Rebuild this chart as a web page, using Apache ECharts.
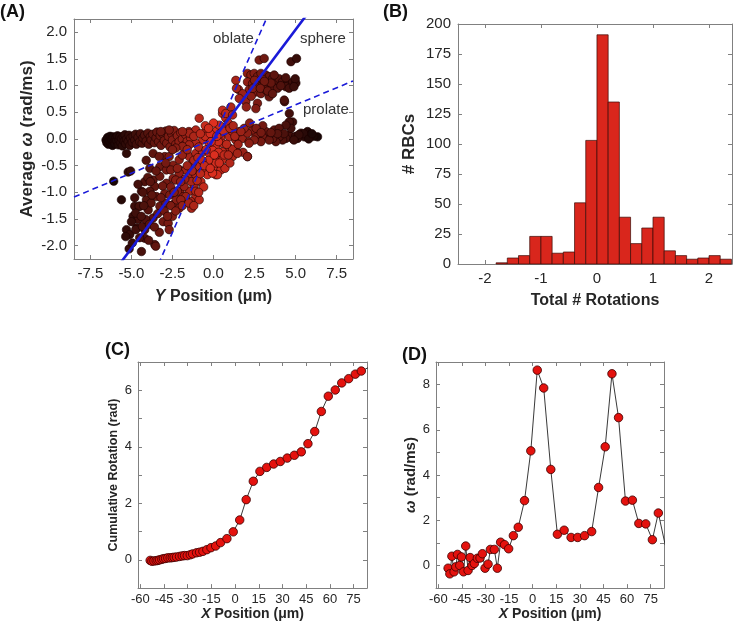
<!DOCTYPE html>
<html><head><meta charset="utf-8">
<script src="https://cdn.jsdelivr.net/npm/echarts@6/dist/echarts.min.js"></script>
<style>html,body{margin:0;padding:0;background:#fff}#c{width:738px;height:622px}</style>
</head><body><div id="c"></div>
<script>
// ---------- Panel A data: Y position (um) vs average omega (rad/ms) ----------
const aBandLeft = [[-6.55,-0.02],[-6.5,-0.07],[-6.45,0.03],[-6.4,-0.1],[-6.35,-0.04],[-6.3,0.05],[-6.25,-0.08],[-6.2,0.0],[-6.15,-0.12],[-6.1,0.04],[-6.05,-0.05],[-6.0,-0.09],[-5.95,0.02],[-5.9,-0.03],[-5.85,0.06],[-5.8,-0.11],[-5.75,-0.02],[-5.7,0.04],[-5.65,-0.07],[-5.6,0.01],[-5.55,-0.13],[-5.5,0.05],[-5.45,-0.04],[-5.4,0.08],[-5.35,-0.09],[-5.3,0.0],[-5.2,-0.05],[-5.15,0.07],[-5.1,-0.12],[-5.05,0.02],[-4.95,-0.06],[-4.9,0.05],[-4.8,-0.02],[-4.75,0.09],[-4.7,-0.1],[-4.6,0.03],[-4.5,-0.05],[-4.45,0.1],[-4.35,-0.08],[-4.3,0.02],[-4.2,0.07],[-4.1,-0.04],[-4.0,0.11],[-3.95,-0.1],[-3.85,0.04],[-3.8,-0.02],[-3.7,0.09],[-3.6,-0.07],[-3.5,0.02],[-3.45,0.13],[-3.35,-0.05],[-3.25,0.06],[-3.2,-0.12],[-3.1,0.1],[-3.0,-0.03],[-2.9,0.15],[-2.85,-0.08],[-2.75,0.05],[-2.65,-0.15],[-2.55,0.1],[-2.5,-0.02],[-2.4,0.16],[-2.3,-0.1],[-2.2,0.06],[-2.1,-0.05],[-2.0,0.12],[-1.9,0.0],[-1.8,-0.12],[-1.7,0.08],[-1.6,-0.04],[-1.5,0.14],[-1.4,0.02]];
const aCloudLowerLeft = [[-5.30,-0.27],[-5.20,-0.62],[-5.05,-0.60],[-6.08,-0.79],[-5.61,-1.14],[-3.88,-0.55],[-4.19,-0.80],[-3.68,-0.77],[-4.39,-0.98],[-4.80,-1.26],[-4.90,-1.45],[-4.59,-1.51],[-5.30,-1.70],[-5.10,-1.79],[-4.69,-1.67],[-4.19,-1.70],[-4.19,-1.86],[-3.58,-1.98],[-4.39,-2.11],[-5.14,-2.06],[-4.49,-1.26],[-3.98,-1.33],[-3.68,-1.48],[-3.27,-1.26],[-3.07,-1.55],[-2.76,-1.58],[-3.48,-1.08],[-2.97,-1.02],[-2.66,-1.05],[-2.46,-1.23],[-2.26,-1.14],[-2.05,-0.98],[-1.85,-1.08],[-1.65,-1.17],[-1.34,-1.30],[-2.87,-0.83],[-2.46,-0.74],[-3.27,-0.70],[-3.58,-0.89],[-3.88,-0.98],[-4.09,-1.14],[-3.27,-0.52],[-2.87,-0.58],[-2.46,-0.49],[-2.05,-0.58],[-3.68,-0.27],[-2.97,-0.33],[-3.52,-2.01],[-5.35,-1.83],[-4.74,-1.70],[-4.33,-1.64],[-4.13,-1.51],[-4.53,-1.26],[-4.74,-1.39],[-3.8,-1.2],[-3.4,-1.4],[-3.9,-1.6],[-4.0,-0.72],[-3.1,-0.88],[-3.75,-1.05],[-4.3,-1.0],[-3.3,-1.75],[-2.9,-1.2],[-2.5,-1.45],[-4.6,-0.85],[-3.5,-0.6],[-4.1,-0.4],[-2.7,-1.7],[-3.95,-1.9],[-4.5,-1.85],[-4.8,-1.1],[-5.0,-1.55],[-4.4,-1.45],[-3.6,-1.65],[-3.2,-1.1],[-3.0,-1.35],[-3.85,-0.8],[-4.25,-1.25],[-2.6,-0.9],[-4.95,-1.95]];
const aCloudCenter = [[-0.87,0.39],[0.55,0.48],[0.75,0.39],[0.14,0.14],[-0.47,0.14],[-1.08,0.17],[-1.48,0.11],[-1.89,0.14],[-2.70,0.17],[-3.21,0.14],[0.45,0.04],[0.96,0.04],[1.36,-0.02],[1.77,0.01],[2.17,-0.05],[1.57,0.14],[1.16,0.14],[0.75,0.23],[0.35,0.26],[1.36,-0.21],[0.96,-0.17],[0.55,-0.24],[0.14,-0.14],[-0.26,-0.08],[-0.67,-0.02],[-1.08,-0.08],[-1.48,-0.11],[-1.89,-0.14],[-2.30,-0.17],[-2.70,-0.33],[-2.09,-0.39],[-1.48,-0.33],[-1.08,-0.27],[-0.67,-0.24],[-0.26,-0.27],[0.14,-0.33],[0.55,-0.39],[0.04,-0.52],[-0.37,-0.45],[-0.87,-0.52],[-1.28,-0.45],[-1.69,-0.58],[-2.09,-0.64],[-1.48,-0.70],[-1.08,-0.67],[-0.67,-0.61],[-0.37,-0.67],[-0.77,-0.80],[-1.18,-0.89],[-1.48,-0.98],[-1.08,-1.08],[-1.38,-1.17],[-1.69,-1.08],[-1.99,-1.14],[-1.79,-0.89],[-2.20,-0.98],[-2.09,-1.30],[-2.80,-1.45],[-2.30,-0.77],[-2.60,-0.58],[-2.91,-0.45],[-3.31,-0.33],[0.55,-0.08],[-0.06,-0.21],[0.45,-0.58],[0.14,-0.67],[0.14,-0.45],[1.16,-0.33],[2.07,-0.33],[1.16,-0.19],[0.24,-0.67],[-0.06,-0.64],[-0.87,-1.14],[-1.08,-0.98],[-0.5,0.05],[-0.2,0.1],[0.3,-0.05],[0.8,-0.1],[-0.9,-0.15],[-0.3,-0.4],[0.7,-0.55],[1.0,-0.45],[-0.6,-0.9],[-1.3,-0.6],[-1.9,-0.3],[0.0,0.3],[-0.5,0.25],[1.5,-0.1],[1.8,-0.25],[0.4,0.1],[-1.2,-0.4],[-0.95,-0.35],[-0.7,-0.4],[-0.45,-0.2],[-0.15,-0.05],[0.2,0.05],[0.6,0.15],[0.9,0.3],[-1.6,-0.5],[-1.35,-0.8],[-1.0,-0.78],[-0.8,-0.65],[-0.55,-0.5],[-0.2,-0.55],[0.3,-0.25],[0.65,-0.3],[-1.75,-0.75],[-2.0,-0.8],[-2.4,-1.0],[-2.6,-1.25],[-2.3,-1.35],[-1.9,-1.25],[-1.5,-1.2],[-1.2,-1.25],[-0.9,-1.0],[-2.2,-0.55],[-2.5,-0.2],[-1.6,-0.2],[-1.2,0.05],[-0.8,0.1],[0.05,-0.3],[0.35,-0.45],[0.9,-0.3],[1.3,0.05],[1.0,0.2],[-0.3,0.2]];
const aCloudUpperRight = [[2.78,1.48],[3.09,1.51],[4.72,1.45],[5.06,1.51],[2.07,1.23],[2.28,1.20],[2.48,1.23],[2.68,1.17],[2.89,1.23],[3.19,1.20],[3.39,1.17],[3.60,1.13],[3.80,1.10],[4.0,1.13],[4.2,1.07],[4.5,1.04],[4.82,1.07],[5.02,1.05],[4.98,1.13],[4.41,0.98],[4.61,0.95],[2.07,1.07],[2.38,1.04],[2.68,1.05],[2.99,1.01],[3.29,1.04],[3.60,0.98],[3.90,0.95],[2.17,0.92],[2.58,0.88],[2.89,0.85],[3.19,0.92],[3.39,0.79],[1.52,0.93],[1.77,0.85],[1.57,0.76],[1.97,0.70],[2.68,0.67],[2.58,0.57],[4.33,0.70],[1.36,1.10],[0.55,0.54],[0.75,0.48],[1.06,0.60],[1.16,0.45],[1.40,0.95],[2.5,1.1],[3.0,1.12],[3.5,1.05],[2.3,0.8],[4.62,0.48],[4.82,0.32],[4.31,0.73],[3.7,1.2],[4.1,1.0],[3.1,1.08],[2.4,0.95],[2.85,0.95],[3.3,0.9],[4.4,1.15],[4.9,0.98],[2.0,0.6],[3.6,0.85]];
const aBandRight = [[6.34,0.04],[5.73,0.14],[5.53,0.04],[5.33,0.11],[5.12,0.01],[4.82,0.01],[4.61,0.07],[4.41,0.01],[4.21,-0.02],[4.0,0.04],[3.80,-0.05],[3.60,0.01],[3.39,0.07],[3.19,0.14],[2.99,0.04],[2.78,0.17],[2.58,0.07],[2.38,0.17],[2.07,0.11],[1.87,0.20],[1.67,0.14],[4.61,0.32],[4.72,0.20],[4.41,0.26],[3.70,0.17],[4.0,0.20],[3.39,-0.02],[2.89,-0.05],[2.48,-0.02],[2.17,-0.08],[2.07,-0.33],[1.46,-0.27],[5.9,0.08],[6.1,0.05],[5.0,0.05],[3.0,0.25],[2.2,0.3],[1.2,0.25],[5.5,0.1],[5.2,0.08],[4.9,-0.02],[4.3,0.1],[3.9,0.1],[3.5,0.12],[2.6,0.2],[2.9,0.12],[5.8,0.0],[6.0,0.1]];
// reference lines: omega = slope * y
const aLineNames = ['sphere','oblate','prolate'];
const aLineSlopes = [0.41, 0.70, 0.128];
const aXTicks = [-7.5,-5,-2.5,0,2.5,5,7.5];
const aYTicks = [-2,-1.5,-1,-0.5,0,0.5,1,1.5,2];

// ---------- Panel B data: histogram ----------
const bBinEdges = [-1.8,-1.6,-1.4,-1.2,-1.0,-0.8,-0.6,-0.4,-0.2,0,0.2,0.4,0.6,0.8,1.0,1.2,1.4,1.6,1.8,2.0,2.2,2.4];
const bCounts = [1,5,7,23,23,9,10,51,103,191,135,39,17,30,39,11,7,4,5,7,4];
const bXTicks = [-2,-1,0,1,2];

// ---------- Panels C & D data ----------
const cdX = [-53.8,-52.7,-51.4,-50.0,-48.9,-47.8,-46.4,-45.3,-44.0,-42.6,-41.1,-39.8,-38.6,-37.1,-35.2,-33.5,-32.0,-30.3,-28.4,-26.9,-24.4,-22.5,-20.4,-17.9,-15.3,-12.3,-9.2,-5.2,-1.2,2.9,7.0,11.5,15.7,20.0,24.4,28.6,33.0,37.5,41.9,46.1,50.4,54.6,59.0,63.4,67.5,71.9,76.1,79.9,84.3];
const cCumRot = [-0.02,-0.05,-0.04,-0.03,-0.02,0.0,0.02,0.04,0.05,0.07,0.07,0.08,0.09,0.10,0.12,0.14,0.15,0.15,0.18,0.21,0.25,0.27,0.30,0.36,0.43,0.49,0.61,0.75,0.99,1.41,2.13,2.78,3.13,3.27,3.39,3.48,3.60,3.70,3.82,4.11,4.54,5.25,5.79,6.01,6.26,6.41,6.57,6.68,6.80];
const dOmega = [-0.12,-0.37,0.41,-0.28,-0.06,0.49,0.0,0.38,-0.28,0.86,-0.22,0.35,0.0,0.09,0.32,0.33,0.52,-0.12,0.06,0.71,0.71,-0.12,1.03,0.92,0.74,1.32,1.69,2.87,5.07,8.64,7.85,4.25,1.38,1.56,1.24,1.24,1.32,1.50,3.45,5.25,8.48,6.54,2.85,2.89,1.86,1.84,1.14,2.32,0.9];
const cdXTicks = [-60,-45,-30,-15,0,15,30,45,60,75];

// ---------- build ----------
const FONT = '"Liberation Sans", Arial, Helvetica, sans-serif';
const AX = '#808080', TXT = '#262626';
const aPoints = [].concat(aBandLeft, aCloudLowerLeft, aCloudCenter, aCloudUpperRight, aBandRight);

function mkAxis(gi, pos, min, max, ticks, opts) {
  opts = opts || {};
  const main = pos === 'bottom' || pos === 'left';
  const ax = {
    type: 'value', gridIndex: gi, position: pos, min: min, max: max,
    axisLine: { show: true, onZero: false, lineStyle: { color: AX, width: 1 } },
    axisTick: { show: true, inside: true, length: 4, lineStyle: { color: AX } },
    splitLine: { show: false },
    axisLabel: { show: main, color: TXT, fontFamily: FONT, fontSize: opts.fs || 15, margin: opts.margin || 7 }
  };
  if (opts.interval) {
    ax.interval = opts.interval;
    if (opts.fmt) ax.axisLabel.formatter = opts.fmt;
  } else {
    ax.axisTick.customValues = ticks;
    ax.axisLabel.customValues = ticks;
    if (opts.fmt) ax.axisLabel.formatter = opts.fmt;
  }
  if (main && opts.name) {
    ax.name = opts.name;
    ax.nameLocation = 'middle';
    ax.nameGap = opts.nameGap;
    ax.nameTextStyle = { color: TXT, fontFamily: FONT, fontWeight: 'bold', fontSize: opts.nfs,
      rich: { i: { fontStyle: 'italic', fontWeight: 'bold', fontSize: opts.nfs, fontFamily: FONT, color: TXT } } };
  }
  return ax;
}
const fmt1 = v => v.toFixed(1);
const evenOnly = v => (Math.round(v) % 2 === 0 ? String(v) : '');

function shade(x) {
  const t = Math.min(1, Math.pow(Math.abs(x) / 6.2, 0.85));
  const r = Math.round(222 - 200 * t), g = Math.round(48 - 42 * t), b = Math.round(32 - 27 * t);
  return 'rgb(' + r + ',' + g + ',' + b + ')';
}

const xAxes = [
  mkAxis(0, 'bottom', -8.5, 8.5, aXTicks, { fmt: fmt1, name: '{i|Y} Position (μm)', nameGap: 30, nfs: 16 }),
  mkAxis(0, 'top', -8.5, 8.5, aXTicks),
  mkAxis(1, 'bottom', -2.48, 2.41, bXTicks, { name: 'Total # Rotations', nameGap: 29, nfs: 16 }),
  mkAxis(1, 'top', -2.48, 2.41, bXTicks),
  mkAxis(2, 'bottom', -61.5, 83.5, cdXTicks, { fs: 13, margin: 5, name: '{i|X} Position (μm)', nameGap: 18, nfs: 14 }),
  mkAxis(2, 'top', -61.5, 83.5, cdXTicks),
  mkAxis(3, 'bottom', -61.5, 83.5, cdXTicks, { fs: 13, margin: 5, name: '{i|X} Position (μm)', nameGap: 18, nfs: 14 }),
  mkAxis(3, 'top', -61.5, 83.5, cdXTicks)
];
const yAxes = [
  mkAxis(0, 'left', -2.25, 2.25, aYTicks, { fmt: fmt1, name: 'Average {i|ω} (rad/ms)', nameGap: 38, nfs: 17 }),
  mkAxis(0, 'right', -2.25, 2.25, aYTicks),
  mkAxis(1, 'left', 0, 200, null, { interval: 25, name: '# RBCs', nameGap: 40, nfs: 17 }),
  mkAxis(1, 'right', 0, 200, null, { interval: 25 }),
  mkAxis(2, 'left', -1, 7, null, { interval: 1, fmt: evenOnly, fs: 13, margin: 6, name: 'Cumulative Rotation (rad)', nameGap: 18, nfs: 12.5 }),
  mkAxis(2, 'right', -1, 7, null, { interval: 1 }),
  mkAxis(3, 'left', -1, 9, null, { interval: 1, fmt: evenOnly, fs: 13, margin: 6, name: '{i|ω} (rad/ms)', nameGap: 18, nfs: 15 }),
  mkAxis(3, 'right', -1, 9, null, { interval: 1 })
];

const series = [];
series.push({
  type: 'scatter', xAxisIndex: 0, yAxisIndex: 0, data: aPoints, symbolSize: 8.5, z: 2,
  itemStyle: { color: p => shade(p.value[0]), borderColor: '#1a0000', borderWidth: 0.6, opacity: 1 }
});
aLineNames.forEach((nm, i) => {
  const k = aLineSlopes[i];
  series.push({
    type: 'line', name: nm, xAxisIndex: 0, yAxisIndex: 0, showSymbol: false, clip: true, z: 5,
    data: [[-8.5, -8.5 * k], [8.5, 8.5 * k]],
    lineStyle: { color: '#1a1ad8', width: i === 0 ? 2.6 : 1.6, type: i === 0 ? 'solid' : [6, 4] }
  });
});
const bData = bCounts.map((c, i) => [bBinEdges[i], bBinEdges[i + 1], c]);
series.push({
  type: 'custom', xAxisIndex: 2, yAxisIndex: 2, data: bData,
  renderItem: function (params, api) {
    const p0 = api.coord([api.value(0), 0]);
    const p1 = api.coord([api.value(1), api.value(2)]);
    return { type: 'rect', shape: { x: p0[0], y: p1[1], width: p1[0] - p0[0], height: p0[1] - p1[1] },
      style: { fill: '#d9261c', stroke: '#3a0a06', lineWidth: 0.7 } };
  }
});
const markerStyle = { color: '#e4120e', borderColor: '#3a0000', borderWidth: 0.8 };
series.push({
  type: 'line', xAxisIndex: 4, yAxisIndex: 4, clip: true, symbol: 'circle', symbolSize: 8.5,
  data: cdX.map((x, i) => [x, cCumRot[i]]), lineStyle: { color: '#222', width: 0.9 }, itemStyle: markerStyle
});
series.push({
  type: 'line', xAxisIndex: 6, yAxisIndex: 6, clip: true, symbol: 'circle', symbolSize: 8.5,
  data: cdX.map((x, i) => [x, dOmega[i]]), lineStyle: { color: '#222', width: 0.9 }, itemStyle: markerStyle
});

const titleStyle = (t, x, y) => ({ type: 'text', left: x, top: y, style: { text: t, font: 'bold 18px ' + FONT, fill: '#111' } });
const lblStyle = (t, x, y) => ({ type: 'text', left: x, top: y, z: 10, style: { text: t, font: '15px ' + FONT, fill: '#333' } });

const chart = echarts.init(document.getElementById('c'), null, { renderer: 'canvas' });
chart.setOption({
  animation: false,
  backgroundColor: '#fff',
  grid: [
    { left: 74, top: 19, width: 279, height: 240 },
    { left: 458, top: 24, width: 274, height: 240 },
    { left: 138, top: 362, width: 229, height: 227 },
    { left: 436, top: 362, width: 228, height: 228 }
  ],
  xAxis: xAxes, yAxis: yAxes, series: series,
  graphic: [
    titleStyle('(A)', 0, 3), titleStyle('(B)', 383, 3), titleStyle('(C)', 105, 341), titleStyle('(D)', 402, 346),
    lblStyle('oblate', 213, 31), lblStyle('sphere', 300, 31), lblStyle('prolate', 303, 102)
  ]
});
</script></body></html>
